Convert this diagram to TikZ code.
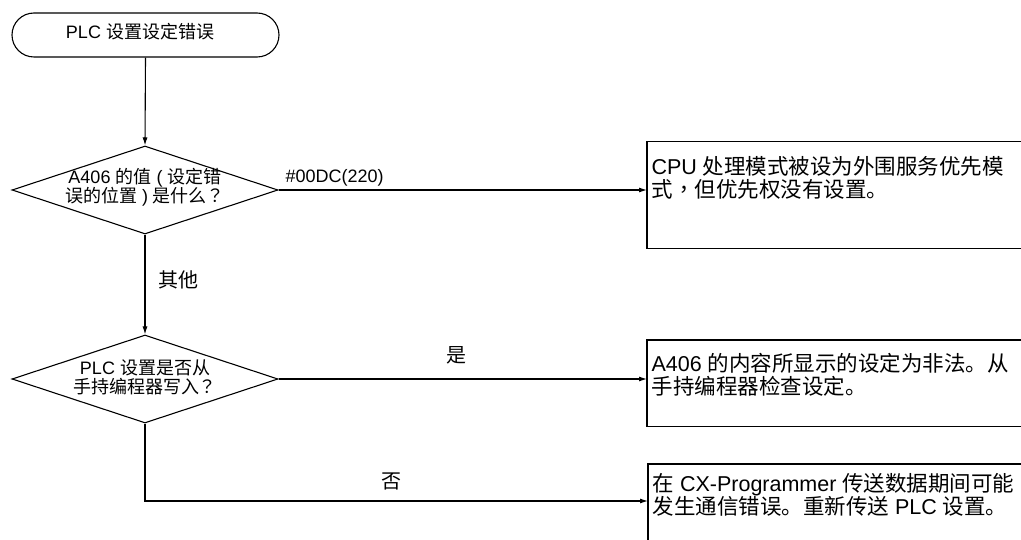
\documentclass[tikz,border=0pt]{standalone}
\usepackage{fontspec}
\setmainfont{Liberation Sans}
\newfontfamily\cjk{Noto Sans CJK SC}
\newfontfamily\cjktc{Noto Sans CJK TC}
\newcommand\zh[1]{{\cjk #1}}
\newcommand\zp[1]{{\cjktc #1}}
\usetikzlibrary{shapes.geometric,shapes.misc,arrows.meta,calc}
\begin{document}
\begin{tikzpicture}[x=1pt,y=-1pt,line width=1.1pt,
  >={Latex[length=8pt,width=5pt]},
  term/.style={draw,rounded rectangle,minimum width=267pt,minimum height=44pt,inner sep=0pt},
  dia/.style={draw,diamond,minimum width=266pt,minimum height=88pt,inner sep=0pt},
  dtext/.style={align=center,inner sep=0pt,font=\fontsize{18}{19}\selectfont},
  box/.style={rectangle,anchor=north west,inner sep=0pt,minimum width=460pt},
  btext/.style={align=left,anchor=north west,inner sep=0pt,font=\fontsize{21.5}{23}\selectfont},
  lbl/.style={inner sep=0pt,font=\fontsize{18}{18}\selectfont},
  zlbl/.style={inner sep=0pt,font=\fontsize{20}{20}\selectfont}]
\path[use as bounding box,fill=white] (0,0) rectangle (1021,540);

\node[term] (start) at (145.5,35) {};
\node[dtext] (startt) at (140,32) {PLC \zh{设置设定错误}};

\node[dia] (d1) at (145,190) {};
\node[dtext] (d1t) at (145,187) {A406 \zh{的值} ( \zh{设定错}\\\zh{误的位置} ) \zh{是什么}\zp{？}};

\node[dia] (d2) at (145,379) {};
\node[dtext] (d2t) at (145,377) {PLC \zh{设置是否从}\\\zh{手持编程器写入}\zp{？}};

\node[box,minimum height=105.5pt] (b1) at (647,141.5) {};
\draw (b1.north east) -- (b1.north west) -- (b1.south west) -- (b1.south east);
\node[btext] (b1t) at (651,155.5) {CPU \zh{处理模式被设为外围服务优先模}\\\zh{式}\zp{，}\zh{但优先权没有设置。}};

\node[box,minimum height=85pt] (b2) at (647,340) {};
\draw (b2.north east) -- (b2.north west) -- (b2.south west) -- (b2.south east);
\node[btext] (b2t) at (651,352.5) {A406 \zh{的内容所显示的设定为非法。从}\\\zh{手持编程器检查设定。}};

\node[box,minimum height=90pt] (b3) at (648,464) {};
\draw (b3.north east) -- (b3.north west) -- (b3.south west);
\node[btext] (b3t) at (652,472.5) {\zh{在} CX-Programmer \zh{传送数据期间可能}\\\zh{发生通信错误。重新传送} PLC \zh{设置。}};

\draw[->] (start.south) -- (d1.north);
\draw[->] (d1.east) -- (d1.east -| b1.west);
\draw[->] (d1.south) -- (d2.north);
\draw[->] (d2.east) -- (d2.east -| b2.west);
\draw[->] (d2.south) |- ($(b3.north west)+(0,37)$);

\node[lbl,anchor=west] (l1) at (285,178) {\#00DC(220)};
\node[zlbl] (l2) at (178,280) {\zh{其他}};
\node[zlbl] (l3) at (456,355) {\zh{是}};
\node[zlbl] (l4) at (391,481) {\zh{否}};
\end{tikzpicture}
\end{document}
